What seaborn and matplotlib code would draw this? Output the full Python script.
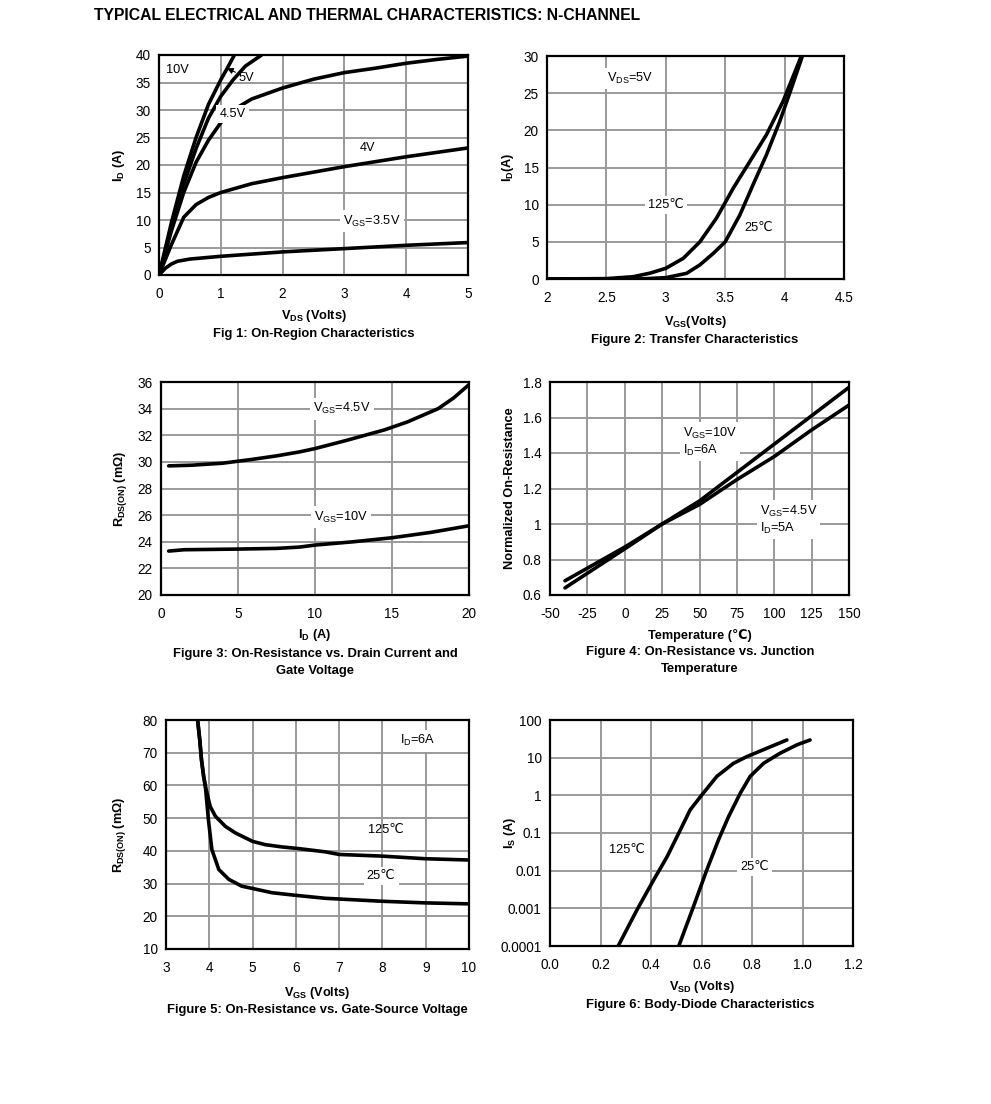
import matplotlib
matplotlib.use("Agg")
import matplotlib.pyplot as plt
import seaborn as sns

# ---- data ----
# Fig 1: On-region characteristics (VDS in V, ID in A)
f1_vds_10v = [0, 0.2, 0.4, 0.6, 0.8, 1.0, 1.1, 1.22]
f1_id_10v = [0, 9.5, 18, 25, 31, 35.5, 37.5, 40]
f1_vds_5v = [0, 0.2, 0.4, 0.6, 0.8, 1.0, 1.2, 1.4, 1.66]
f1_id_5v = [0, 8.5, 16.5, 23, 28.5, 32.5, 35.5, 38, 40]
f1_vds_45v = [0, 0.2, 0.4, 0.6, 0.8, 1.0, 1.2, 1.5, 2.0, 2.5, 3.0, 3.5, 4.0, 4.5, 5.0]
f1_id_45v = [0, 8, 15, 20.5, 24.5, 27.7, 30, 32, 34, 35.6, 36.8, 37.6, 38.5, 39.2, 39.8]
f1_vds_4v = [0, 0.2, 0.4, 0.6, 0.8, 1.0, 1.5, 2.0, 2.5, 3.0, 4.0, 5.0]
f1_id_4v = [0, 5.5, 10.5, 12.8, 14.1, 15, 16.6, 17.7, 18.7, 19.7, 21.5, 23.1]
f1_vds_35v = [0, 0.1, 0.2, 0.3, 0.5, 1.0, 1.5, 2.0, 3.0, 4.0, 5.0]
f1_id_35v = [0, 1.2, 2.0, 2.5, 2.9, 3.4, 3.8, 4.2, 4.8, 5.4, 5.9]

# Fig 2: Transfer characteristics (VGS in V, ID in A)
f2_vgs_125 = [2.0, 2.5, 2.727, 2.87, 3.0, 3.147, 3.287, 3.427, 3.567, 3.707, 3.847, 3.987, 4.141]
f2_id_125 = [0, 0.05, 0.31, 0.8, 1.44, 2.78, 5.0, 8.2, 12.2, 15.8, 19.4, 23.9, 30]
f2_vgs_25 = [2.0, 2.8, 3.0, 3.175, 3.287, 3.4, 3.5, 3.623, 3.735, 3.847, 3.959, 4.043, 4.15]
f2_id_25 = [0, 0.02, 0.18, 0.76, 1.9, 3.45, 5.0, 8.6, 12.7, 16.7, 21.2, 25, 30]

# Fig 3: On-resistance vs drain current (ID in A, RDS(ON) in mOhm)
f3_id_45v = [0.5, 2, 4, 5, 6, 7.5, 9, 10, 12, 14.5, 15, 16, 17, 18, 19, 20]
f3_r_45v = [29.7, 29.75, 29.9, 30.05, 30.2, 30.45, 30.75, 31.0, 31.6, 32.4, 32.6, 33.0, 33.5, 34.0, 34.8, 35.8]
f3_id_10v = [0.5, 1.5, 5, 7.5, 9, 10, 12.5, 15, 17.5, 20]
f3_r_10v = [23.3, 23.4, 23.45, 23.5, 23.6, 23.75, 24.0, 24.3, 24.7, 25.2]

# Fig 4: Normalized on-resistance vs junction temperature
f4_temp = [-40, 0, 25, 50, 75, 100, 125, 150]
f4_r_10v = [0.64, 0.86, 1.0, 1.13, 1.29, 1.45, 1.61, 1.77]
f4_r_45v = [0.68, 0.87, 1.0, 1.11, 1.25, 1.38, 1.53, 1.67]

# Fig 5: On-resistance vs gate-source voltage (VGS in V, RDS(ON) in mOhm)
f5_vgs_25 = [3.73, 3.78, 3.82, 3.87, 3.91, 3.98, 4.06, 4.22, 4.45, 4.75, 5.0, 5.45, 6.0, 6.68, 7.98, 8.98, 10]
f5_r_25 = [80, 73.9, 67.8, 62.7, 59.7, 49.5, 40.4, 34.3, 31.3, 29.2, 28.5, 27.2, 26.4, 25.5, 24.6, 24.1, 23.8]
f5_vgs_125 = [3.73, 3.78, 3.82, 3.87, 3.91, 4.02, 4.14, 4.37, 4.6, 4.83, 5.0, 5.29, 5.68, 6.06, 6.68, 7.0,
              7.98, 8.98, 10]
f5_r_125 = [80, 73.9, 67.8, 62.7, 59.7, 53.6, 50.6, 47.5, 45.5, 44.0, 42.9, 41.9, 41.2, 40.7, 39.7, 38.9,
            38.4, 37.6, 37.2]

# Fig 6: Body-diode characteristics (VSD in V, IS in A)
f6_vsd_125 = [0.27, 0.344, 0.41, 0.463, 0.516, 0.555, 0.601, 0.661, 0.727, 0.78, 0.859, 0.938]
f6_is_125 = [1e-4, 9e-4, 5.6e-3, 0.023, 0.12, 0.41, 1.02, 3.2, 7.1, 10.7, 17.8, 29.5]
f6_vsd_25 = [0.51, 0.568, 0.621, 0.667, 0.707, 0.753, 0.793, 0.846, 0.912, 0.978, 1.03]
f6_is_25 = [1e-4, 1.1e-3, 0.0105, 0.065, 0.27, 1.12, 3.2, 7.1, 13.2, 21.9, 29.5]

log_ticks = [1e-4, 1e-3, 1e-2, 0.1, 1, 10, 100]
log_labels = ["0.0001", "0.001", "0.01", "0.1", "1", "10", "100"]

# ---- style ----
sns.set_theme(style="white")
plt.rcParams['font.family'] = ['Liberation Sans', 'DejaVu Sans']
plt.rcParams['mathtext.default'] = 'regular'
plt.rcParams['axes.unicode_minus'] = False
plt.rcParams['axes.edgecolor'] = 'black'
plt.rcParams['axes.linewidth'] = 1.5
plt.rcParams['text.color'] = 'black'
plt.rcParams['axes.labelcolor'] = 'black'

W, H = 991, 1104
fig = plt.figure(figsize=(W / 100, H / 100), dpi=100)


def box(left, top, right, bottom):
    # pixel box -> figure fraction rect
    return [left / W, 1 - bottom / H, (right - left) / W, (bottom - top) / H]


def style_ax(ax):
    ax.grid(True, color='#9a9a9a', lw=1.4)
    ax.set_axisbelow(True)
    ax.tick_params(length=0, labelsize=9.8, colors='black')
    ax.tick_params(axis='x', pad=8.5)
    ax.tick_params(axis='y', pad=6)
    for s in ax.spines.values():
        s.set_color('black')
        s.set_linewidth(1.6)


def curve(ax, x, y):
    sns.lineplot(x=x, y=y, ax=ax, color='black', lw=2.6, sort=False, estimator=None)


def label(ax, x, y, s, ha='center', white=True):
    kw = dict(fontsize=9.2, ha=ha, va='center', color='black', zorder=5)
    if white:
        kw['bbox'] = dict(boxstyle='square,pad=0.25', fc='white', ec='none')
    ax.text(x, y, s, **kw)


def axis_labels(ax, xl, yl, xy, yx):
    ax.set_xlabel(xl, fontsize=9.2, fontweight='bold')
    ax.set_ylabel(yl, fontsize=9.2, fontweight='bold')
    ax.xaxis.label.set_va('center')
    ax.yaxis.label.set_va('center')
    ax.yaxis.label.set_ha('center')
    ax.xaxis.set_label_coords(0.5, xy)
    ax.yaxis.set_label_coords(yx, 0.5)


CAP = dict(fontsize=9.4, fontweight='bold', ha='center', va='center')

fig.text(94 / W, 1 - 16 / H, "TYPICAL ELECTRICAL AND THERMAL CHARACTERISTICS: N-CHANNEL",
         fontsize=11.3, fontweight='bold', ha='left', va='center')

# Fig 1
ax1 = fig.add_axes(box(159, 55, 468, 275))
style_ax(ax1)
for x, y in [(f1_vds_10v, f1_id_10v), (f1_vds_5v, f1_id_5v), (f1_vds_45v, f1_id_45v),
             (f1_vds_4v, f1_id_4v), (f1_vds_35v, f1_id_35v)]:
    curve(ax1, x, y)
ax1.set_xlim(0, 5)
ax1.set_ylim(0, 40)
ax1.set_xticks(range(0, 6))
ax1.set_yticks(range(0, 41, 5))
label(ax1, 0.11, 37.3, "10V", ha='left', white=False)
ax1.annotate("5V", xy=(1.1, 37.6), xytext=(1.29, 35.9), fontsize=9.2, ha='left', va='center',
             arrowprops=dict(arrowstyle='-|>', color='black', lw=0.8, mutation_scale=9, shrinkA=0, shrinkB=0))
label(ax1, 1.19, 29.3, "4.5V")
label(ax1, 3.37, 23.1, "4V", white=False)
label(ax1, 3.45, 9.8, "V$_{GS}$=3.5V")
axis_labels(ax1, "V$_{DS}$ (Volts)", "I$_{D}$ (A)", -0.186, -0.129)
fig.text(314 / W, 1 - 334 / H, "Fig 1: On-Region Characteristics", **CAP)

# Fig 2
ax2 = fig.add_axes(box(547, 56, 844, 279))
style_ax(ax2)
curve(ax2, f2_vgs_125, f2_id_125)
curve(ax2, f2_vgs_25, f2_id_25)
ax2.set_xlim(2, 4.5)
ax2.set_ylim(0, 30)
ax2.set_xticks([2, 2.5, 3, 3.5, 4, 4.5])
ax2.set_xticklabels(["2", "2.5", "3", "3.5", "4", "4.5"])
ax2.set_yticks(range(0, 31, 5))
label(ax2, 2.70, 27.0, "V$_{DS}$=5V")
label(ax2, 3.0, 9.96, "125\u2103")
label(ax2, 3.78, 6.9, "25\u2103", white=False)
axis_labels(ax2, "V$_{GS}$(Volts)", "I$_{D}$(A)", -0.193, -0.131)
fig.text(695 / W, 1 - 340 / H, "Figure 2: Transfer Characteristics", **CAP)

# Fig 3
ax3 = fig.add_axes(box(161, 382, 469, 595))
style_ax(ax3)
curve(ax3, f3_id_45v, f3_r_45v)
curve(ax3, f3_id_10v, f3_r_10v)
ax3.set_xlim(0, 20)
ax3.set_ylim(20, 36)
ax3.set_xticks([0, 5, 10, 15, 20])
ax3.set_yticks(range(20, 37, 2))
label(ax3, 11.73, 33.98, "V$_{GS}$=4.5V")
label(ax3, 11.67, 25.86, "V$_{GS}$=10V")
axis_labels(ax3, "I$_{D}$ (A)", "R$_{DS(ON)}$ (m\u03a9)", -0.188, -0.133)
fig.text(315 / W, 1 - 654 / H, "Figure 3: On-Resistance vs. Drain Current and", **CAP)
fig.text(315 / W, 1 - 671 / H, "Gate Voltage", **CAP)

# Fig 4
ax4 = fig.add_axes(box(550, 382, 849, 595))
style_ax(ax4)
curve(ax4, f4_temp, f4_r_10v)
curve(ax4, f4_temp, f4_r_45v)
ax4.set_xlim(-50, 150)
ax4.set_ylim(0.6, 1.8)
ax4.set_xticks(range(-50, 151, 25))
ax4.set_yticks([0.6, 0.8, 1.0, 1.2, 1.4, 1.6, 1.8])
ax4.set_yticklabels(["0.6", "0.8", "1", "1.2", "1.4", "1.6", "1.8"])
label(ax4, 38.9, 1.464, "V$_{GS}$=10V\nI$_{D}$=6A", ha='left')
label(ax4, 90.3, 1.024, "V$_{GS}$=4.5V\nI$_{D}$=5A", ha='left')
axis_labels(ax4, "Temperature (\u2103)", "Normalized On-Resistance", -0.188, -0.134)
fig.text(700 / W, 1 - 652 / H, "Figure 4: On-Resistance vs. Junction", **CAP)
fig.text(700 / W, 1 - 669 / H, "Temperature", **CAP)

# Fig 5
ax5 = fig.add_axes(box(166, 720, 469, 949))
style_ax(ax5)
curve(ax5, f5_vgs_125, f5_r_125)
curve(ax5, f5_vgs_25, f5_r_25)
ax5.set_xlim(3, 10)
ax5.set_ylim(10, 80)
ax5.set_xticks(range(3, 11))
ax5.set_yticks(range(10, 81, 10))
label(ax5, 8.82, 73.6, "I$_{D}$=6A")
label(ax5, 8.08, 46.5, "125\u2103", white=False)
label(ax5, 7.97, 32.4, "25\u2103")
axis_labels(ax5, "V$_{GS}$ (Volts)", "R$_{DS(ON)}$ (m\u03a9)", -0.192, -0.152)
fig.text(317 / W, 1 - 1010 / H, "Figure 5: On-Resistance vs. Gate-Source Voltage", **CAP)

# Fig 6
ax6 = fig.add_axes(box(550, 720, 853, 946))
style_ax(ax6)
ax6.set_yscale('log')
curve(ax6, f6_vsd_125, f6_is_125)
curve(ax6, f6_vsd_25, f6_is_25)
ax6.set_xlim(0, 1.2)
ax6.set_ylim(1e-4, 100)
ax6.set_xticks([0, 0.2, 0.4, 0.6, 0.8, 1.0, 1.2])
ax6.set_xticklabels(["0.0", "0.2", "0.4", "0.6", "0.8", "1.0", "1.2"])
ax6.set_yticks(log_ticks)
ax6.set_yticklabels(log_labels)
ax6.minorticks_off()
label(ax6, 0.305, 0.035, "125\u2103")
label(ax6, 0.809, 0.0126, "25\u2103")
axis_labels(ax6, "V$_{SD}$ (Volts)", "I$_{S}$ (A)", -0.181, -0.132)
fig.text(700 / W, 1 - 1005 / H, "Figure 6: Body-Diode Characteristics", **CAP)

fig.savefig("out.png", dpi=100, facecolor='white')
